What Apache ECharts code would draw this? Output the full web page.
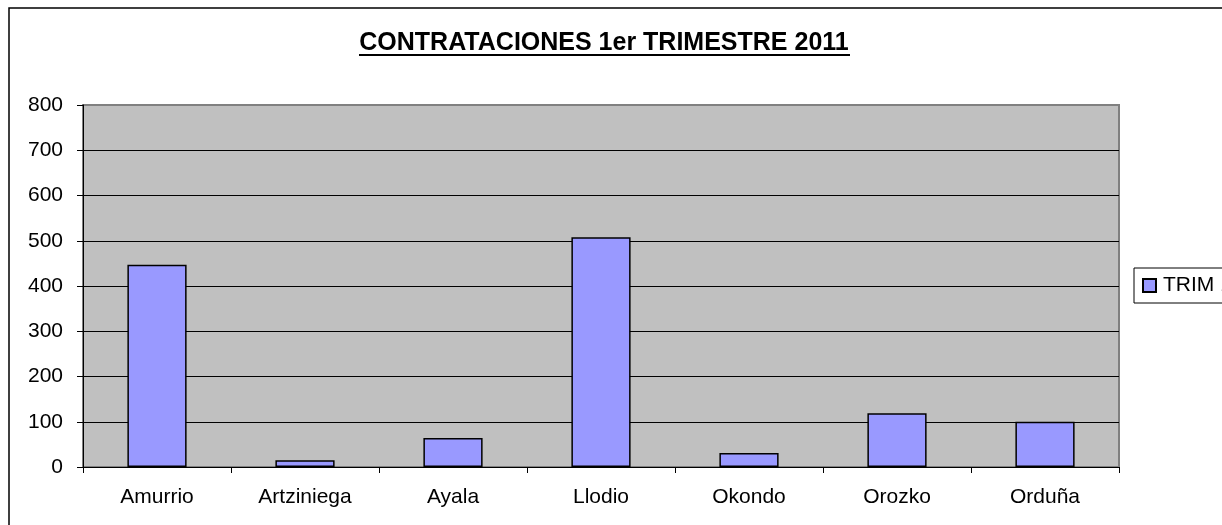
<!DOCTYPE html>
<html>
<head>
<meta charset="utf-8">
<script src="https://cdn.jsdelivr.net/npm/echarts@6/dist/echarts.min.js"></script>
<style>
html,body{margin:0;padding:0;background:#fff;}
#c{width:1222px;height:525px;}
</style>
</head>
<body>
<div id="c"></div>
<script>
const titleText = 'CONTRATACIONES 1er TRIMESTRE 2011';
const categories = ['Amurrio', 'Artziniega', 'Ayala', 'Llodio', 'Okondo', 'Orozko', 'Orduña'];
const seriesName = 'TRIM 1';
const values = [447, 15, 64, 508, 31, 119, 100];
const yMin = 0, yMax = 800, yStep = 100;

const FONT = '"Liberation Sans", Arial, sans-serif';
const chart = echarts.init(document.getElementById('c'), null, {renderer: 'canvas'});
const nLines = (yMax - yMin) / yStep + 1;
const splitColors = [];
for (let i = 0; i < nLines; i++) splitColors.push(i === nLines - 1 ? '#808080' : '#000000');

chart.setOption({
  animation: false,
  backgroundColor: '#ffffff',
  title: {
    text: titleText,
    left: 599,
    textAlign: 'center',
    top: 26,
    textStyle: {fontFamily: FONT, fontWeight: 'bold', fontSize: 25, color: '#000'}
  },
  legend: {
    data: [seriesName],
    left: 1134,
    top: 268,
    orient: 'vertical',
    padding: [7, 8, 7, 8],
    borderColor: '#000',
    borderWidth: 1,
    backgroundColor: '#fff',
    icon: 'rect',
    itemWidth: 13,
    itemHeight: 13,
    itemGap: 0,
    textStyle: {fontFamily: FONT, fontSize: 21, color: '#000', padding: [0, 0, 0, 2]}
  },
  grid: {
    left: 83, right: 103, top: 105, bottom: 58,
    show: true,
    backgroundColor: '#C0C0C0',
    borderColor: '#808080',
    borderWidth: 2,
    containLabel: false
  },
  xAxis: {
    type: 'category',
    data: categories,
    boundaryGap: true,
    axisLine: {show: true, lineStyle: {color: '#000', width: 1}},
    axisTick: {show: true, length: 6, alignWithLabel: false, lineStyle: {color: '#000'}},
    axisLabel: {fontFamily: FONT, fontSize: 21, color: '#000', margin: 20, interval: 0}
  },
  yAxis: {
    type: 'value',
    min: yMin, max: yMax, interval: yStep,
    axisLine: {show: true, lineStyle: {color: '#000', width: 1}},
    axisTick: {show: true, length: 6, lineStyle: {color: '#000'}},
    axisLabel: {fontFamily: FONT, fontSize: 21, color: '#000', margin: 20},
    splitLine: {show: true, lineStyle: {color: splitColors, width: 1}}
  },
  series: [{
    name: seriesName,
    type: 'bar',
    data: values,
    barWidth: '40%',
    itemStyle: {color: '#9999FF', borderColor: '#000', borderWidth: 1.5}
  }],
  graphic: [
    {type: 'rect', shape: {x: 9, y: 8, width: 1400, height: 700}, style: {fill: null, stroke: '#000', lineWidth: 1.5}, z: 100, silent: true},
    {type: 'line', shape: {x1: 359, y1: 55, x2: 850, y2: 55}, style: {stroke: '#000', lineWidth: 2}, z: 100, silent: true}
  ]
});
</script>
</body>
</html>
